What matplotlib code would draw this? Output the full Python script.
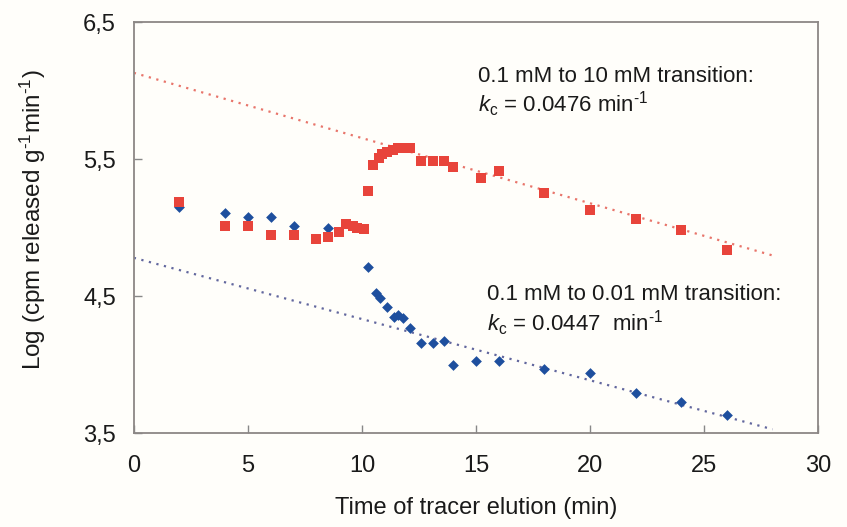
import numpy as np
import matplotlib
matplotlib.use("Agg")
import matplotlib.pyplot as plt
from matplotlib.ticker import FuncFormatter

plt.rcParams['font.family'] = ['Liberation Sans', 'DejaVu Sans']
plt.rcParams['mathtext.fontset'] = 'custom'
plt.rcParams['mathtext.rm'] = 'Liberation Sans'
plt.rcParams['mathtext.it'] = 'Liberation Sans:italic'

# 0.1 mM -> 10 mM (red squares)
red_x = [2, 4, 5, 6, 7, 8, 8.5, 9, 9.3, 9.6, 9.8, 10.1, 10.25, 10.5, 10.75, 10.9,
         11.1, 11.35, 11.6, 11.9, 12.1, 12.6, 13.1, 13.6, 14, 15.2, 16, 18, 20, 22, 24, 26]
red_y = [5.19, 5.01, 5.01, 4.95, 4.95, 4.92, 4.93, 4.97, 5.03, 5.01, 5.0, 4.99, 5.27, 5.46, 5.51, 5.54,
         5.55, 5.57, 5.58, 5.58, 5.58, 5.49, 5.49, 5.49, 5.44, 5.36, 5.41, 5.25, 5.13, 5.06, 4.98, 4.84]

# 0.1 mM -> 0.01 mM (blue diamonds)
blue_x = [2, 4, 5, 6, 7, 8.5, 10.25, 10.6, 10.8, 11.1, 11.4, 11.6, 11.8, 12.1, 12.6, 13.1,
          13.6, 14, 15, 16, 18, 20, 22, 24, 26]
blue_y = [5.15, 5.11, 5.08, 5.08, 5.01, 5.0, 4.71, 4.52, 4.49, 4.42, 4.35, 4.36, 4.34, 4.27, 4.16, 4.16,
          4.17, 4.0, 4.03, 4.03, 3.97, 3.94, 3.79, 3.73, 3.63]

# fitted lines: intercept, slope
red_fit = (6.13, -0.0476)
blue_fit = (4.78, -0.0447)
fit_x = np.array([0, 28])

bg = '#fffefa'
fig = plt.figure(figsize=(8.47, 5.27), dpi=100, facecolor=bg)
ax = fig.add_axes([0.158, 0.178, 0.808, 0.780])
ax.set_facecolor(bg)

ax.plot(fit_x, red_fit[0] + red_fit[1] * fit_x, linestyle=(0, (1, 2.5)), color='#e8756b', lw=1.6)
ax.plot(fit_x, blue_fit[0] + blue_fit[1] * fit_x, linestyle=(0, (1, 2.5)), color='#62679e', lw=1.6)

ax.scatter(blue_x, blue_y, marker='D', s=30, color='#1e4f9e', zorder=3, linewidths=0)
ax.scatter(red_x, red_y, marker='s', s=52, color='#e8443b', zorder=4, linewidths=0)

ax.set_xlim(0, 30)
ax.set_ylim(3.5, 6.5)
ax.set_xticks(range(0, 31, 5))
ax.set_yticks([3.5, 4.5, 5.5, 6.5])
ax.yaxis.set_major_formatter(FuncFormatter(lambda v, p: f"{v:.1f}".replace('.', ',')))
ax.tick_params(direction='in', length=6, width=1, colors='#888888', labelcolor='#1a1a1a',
               labelsize=17)
ax.tick_params(axis='x', pad=16)
ax.tick_params(axis='y', pad=13)
for s in ax.spines.values():
    s.set_color('#8c8785')
    s.set_linewidth(1.3)

ax.set_xlabel('Time of tracer elution (min)', fontsize=17, color='#1a1a1a')
ax.set_ylabel('Log (cpm released g$^{\\text{-1}}$min$^{\\text{-1}}$)', fontsize=17.5, color='#1a1a1a')
ax.xaxis.set_label_coords(0.5, -0.156)
ax.yaxis.set_label_coords(-0.125, 0.52)

ax.text(15.09, 6.06, '0.1 mM to 10 mM transition:', fontsize=16, color='#1a1a1a')
ax.text(15.09, 5.845, '$k_{\\mathrm{c}}$ = 0.0476 min$^{\\text{-1}}$', fontsize=16, color='#1a1a1a')
ax.text(15.48, 4.47, '0.1 mM to 0.01 mM transition:', fontsize=16, color='#1a1a1a')
ax.text(15.48, 4.245, '$k_{\\mathrm{c}}$ = 0.0447  min$^{\\text{-1}}$', fontsize=16, color='#1a1a1a')

fig.savefig('out.png', dpi=100, facecolor=fig.get_facecolor())
